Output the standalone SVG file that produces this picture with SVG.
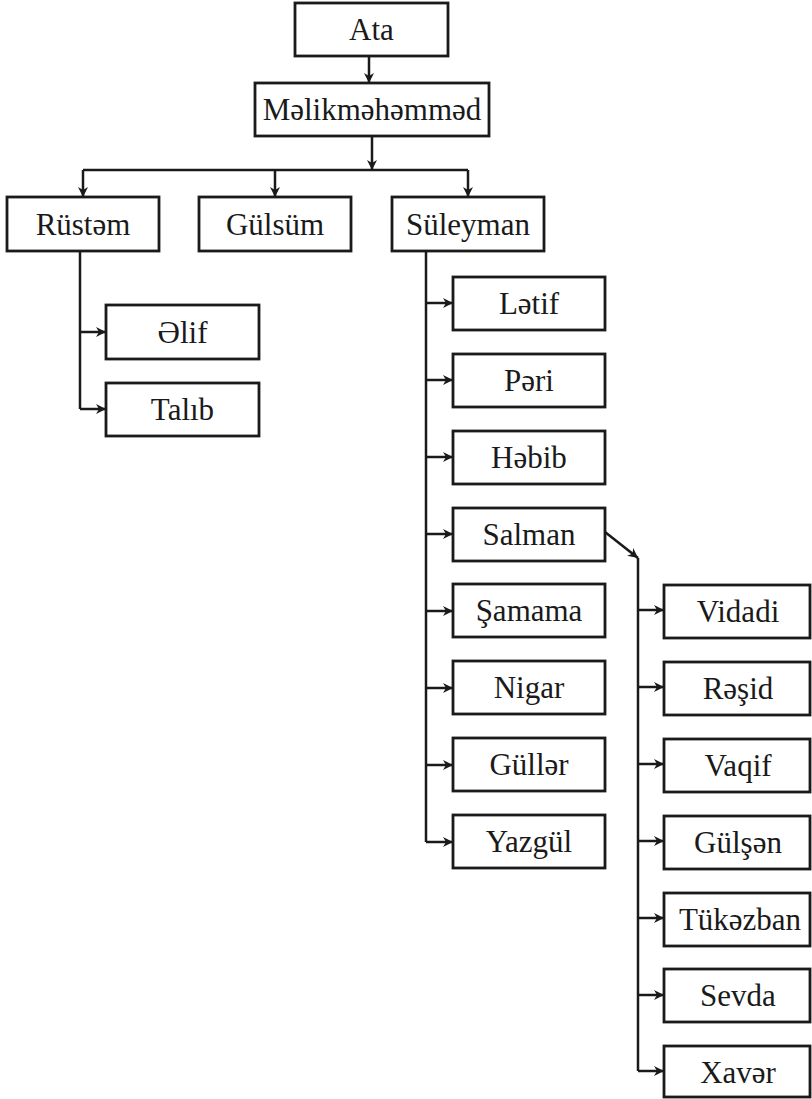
<svg xmlns="http://www.w3.org/2000/svg" width="812" height="1099" viewBox="0 0 812 1099">
<defs>
<marker id="ah" viewBox="0 0 10 10" refX="10" refY="5" markerWidth="12" markerHeight="10" markerUnits="userSpaceOnUse" orient="auto">
<path d="M0,0 L10,5 L0,10 L3,5 z" fill="#1a1a1a"/>
</marker>
<style>
.b{fill:#fff;stroke:#1a1a1a;stroke-width:2.8}
.t{font-family:"Liberation Serif","DejaVu Serif","Times New Roman",serif;font-size:31px;fill:#1a1a1a;text-anchor:middle}
.c{fill:none;stroke:#1a1a1a;stroke-width:2.5}
.a{marker-end:url(#ah)}
</style>
</defs>
<rect width="812" height="1099" fill="#fff"/>
<g id="connectors">
<path class="c a" d="M369,56 V83"/>
<path class="c a" d="M372,136 V170"/>
<path class="c" d="M83,170 H468"/>
<path class="c a" d="M83,170 V197"/>
<path class="c a" d="M275,170 V197"/>
<path class="c a" d="M468,170 V197"/>
<path class="c" d="M80,251 V409"/>
<path class="c a" d="M80,332 H106"/>
<path class="c a" d="M80,409 H106"/>
<path class="c" d="M426,251 V842"/>
<path class="c a" d="M426,303 H453"/>
<path class="c a" d="M426,380 H453"/>
<path class="c a" d="M426,457 H453"/>
<path class="c a" d="M426,534 H453"/>
<path class="c a" d="M426,611 H453"/>
<path class="c a" d="M426,688 H453"/>
<path class="c a" d="M426,765 H453"/>
<path class="c a" d="M426,842 H453"/>
<path class="c a" d="M605,532 L638,558"/>
<path class="c" d="M638,558 V1071"/>
<path class="c a" d="M638,610 H664"/>
<path class="c a" d="M638,687 H664"/>
<path class="c a" d="M638,764 H664"/>
<path class="c a" d="M638,841 H664"/>
<path class="c a" d="M638,918 H664"/>
<path class="c a" d="M638,995 H664"/>
<path class="c a" d="M638,1071 H664"/>
</g>
<g id="ata"><rect class="b" x="295" y="3" width="153" height="53"/><text class="t" x="371.5" y="40">Ata</text></g>
<g id="melikmehemmed"><rect class="b" x="255" y="83" width="234" height="53"/><text class="t" x="372" y="120">Məlikməhəmməd</text></g>
<g id="rustem"><rect class="b" x="7" y="197" width="152" height="54"/><text class="t" x="83" y="235">Rüstəm</text></g>
<g id="gulsum"><rect class="b" x="199" y="197" width="152" height="54"/><text class="t" x="275" y="235">Gülsüm</text></g>
<g id="suleyman"><rect class="b" x="392" y="197" width="152" height="54"/><text class="t" x="468" y="235">Süleyman</text></g>
<g id="elif"><rect class="b" x="106" y="305" width="153" height="54"/><text class="t" x="182.5" y="343">Əlif</text></g>
<g id="talib"><rect class="b" x="106" y="383" width="153" height="53"/><text class="t" x="182.5" y="420">Talıb</text></g>
<g id="letif"><rect class="b" x="453" y="277" width="152" height="53"/><text class="t" x="529" y="314">Lətif</text></g>
<g id="peri"><rect class="b" x="453" y="354" width="152" height="53"/><text class="t" x="529" y="391">Pəri</text></g>
<g id="hebib"><rect class="b" x="453" y="431" width="152" height="53"/><text class="t" x="529" y="468">Həbib</text></g>
<g id="salman"><rect class="b" x="453" y="508" width="152" height="53"/><text class="t" x="529" y="545">Salman</text></g>
<g id="samama"><rect class="b" x="453" y="584" width="152" height="53"/><text class="t" x="529" y="621">Şamama</text></g>
<g id="nigar"><rect class="b" x="453" y="661" width="152" height="53"/><text class="t" x="529" y="698">Nigar</text></g>
<g id="guller"><rect class="b" x="453" y="738" width="152" height="53"/><text class="t" x="529" y="775">Güllər</text></g>
<g id="yazgul"><rect class="b" x="453" y="815" width="152" height="53"/><text class="t" x="529" y="852">Yazgül</text></g>
<g id="vidadi"><rect class="b" x="664" y="585" width="146" height="53"/><text class="t" x="738" y="622">Vidadi</text></g>
<g id="reshid"><rect class="b" x="664" y="662" width="146" height="53"/><text class="t" x="738" y="699">Rəşid</text></g>
<g id="vaqif"><rect class="b" x="664" y="739" width="146" height="53"/><text class="t" x="738" y="776">Vaqif</text></g>
<g id="gulshen"><rect class="b" x="664" y="816" width="146" height="53"/><text class="t" x="738" y="853">Gülşən</text></g>
<g id="tukezban"><rect class="b" x="664" y="893" width="146" height="53"/><text class="t" x="740" y="930">Tükəzban</text></g>
<g id="sevda"><rect class="b" x="664" y="969" width="146" height="53"/><text class="t" x="738" y="1006">Sevda</text></g>
<g id="xaver"><rect class="b" x="664" y="1046" width="146" height="51"/><text class="t" x="738" y="1083">Xavər</text></g>
</svg>
